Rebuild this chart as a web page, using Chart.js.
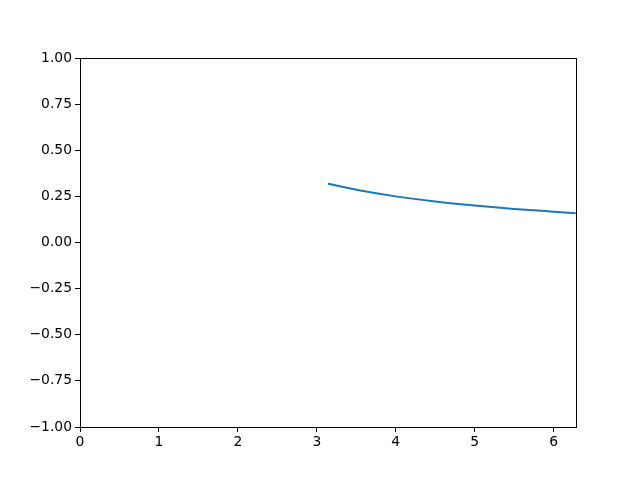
<!DOCTYPE html>
<html>
<head>
<meta charset="utf-8">
<script src="https://cdn.jsdelivr.net/npm/chart.js@4/dist/chart.umd.min.js"></script>
<style>
  html, body { margin: 0; padding: 0; background: #fff; }
  canvas { display: block; }
</style>
</head>
<body>
<canvas id="myChart" width="640" height="480"></canvas>
<script>
// values
const xValues = [3.14, 3.5, 4.0, 4.5, 5.0, 5.5, 6.0, 6.28];
const yValues = [0.318, 0.286, 0.25, 0.222, 0.2, 0.182, 0.167, 0.159];
const xMin = 0, xMax = 6.2832;
const yMin = -1, yMax = 1;

const points = xValues.map((x, i) => ({ x: x, y: yValues[i] }));

// draw the box round the plot area like matplotlib does
const frame = {
  id: "frame",
  afterDraw(chart) {
    const a = chart.chartArea;
    const c = chart.ctx;
    c.save();
    c.strokeStyle = "#000";
    c.lineWidth = 1;
    c.strokeRect(Math.round(a.left) + 0.5, Math.round(a.top) + 0.5,
      Math.round(a.right - a.left), Math.round(a.bottom - a.top));
    c.restore();
  }
};

const tickFont = { family: "'DejaVu Sans'", size: 13.9 };

new Chart(document.getElementById("myChart").getContext("2d"), {
  type: "line",
  data: {
    datasets: [{
      data: points,
      borderColor: "#1f77b4",
      borderWidth: 2,
      pointRadius: 0,
      cubicInterpolationMode: "monotone",
      fill: false
    }]
  },
  options: {
    responsive: false,
    animation: false,
    layout: { padding: { top: 58, right: 64, left: 0, bottom: 0 } },
    plugins: { legend: { display: false }, tooltip: { enabled: false } },
    scales: {
      x: {
        type: "linear",
        min: xMin,
        max: xMax,
        afterFit: (s) => { s.height = 53; },
        grid: { drawOnChartArea: false, drawTicks: true, tickLength: 5, tickColor: "#000" },
        border: { display: true, color: "#000" },
        ticks: {
          stepSize: 1,
          includeBounds: false,
          autoSkip: false,
          maxRotation: 0,
          color: "#000",
          font: tickFont,
          padding: 2,
          callback: (v) => String(v)
        }
      },
      y: {
        type: "linear",
        min: yMin,
        max: yMax,
        afterFit: (s) => { s.width = 80; },
        grid: { drawOnChartArea: false, drawTicks: true, tickLength: 5, tickColor: "#000" },
        border: { display: true, color: "#000" },
        ticks: {
          stepSize: 0.25,
          autoSkip: false,
          color: "#000",
          font: tickFont,
          padding: 3,
          callback: (v) => v.toFixed(2).replace("-", "\u2212")
        }
      }
    }
  },
  plugins: [frame]
});
</script>
</body>
</html>
